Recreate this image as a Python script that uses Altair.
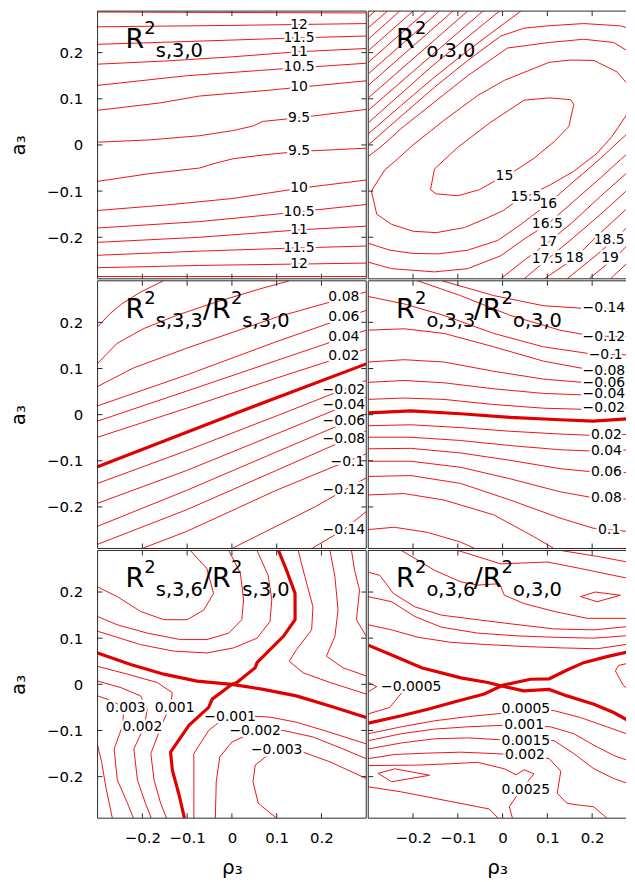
import altair as alt
import pandas as pd

FONT = "DejaVu Sans"
THIN = "#f01414"
THICK = "#e00000"
INK = "#2a2a2a"
TICKS = [-0.2, -0.1, 0.0, 0.1, 0.2]

# ---------------- panel 1 : R^2_{s,3,0} ----------------
P1_LINES = [
    [(-0.3, 0.288), (0.3, 0.286)],
    [(-0.3, 0.256), (0.0, 0.259), (0.3, 0.263)],
    [(-0.3, 0.218), (-0.072, 0.225), (0.15, 0.232), (0.3, 0.236)],
    [(-0.3, 0.175), (-0.146, 0.182), (0.002, 0.191), (0.15, 0.202), (0.3, 0.209)],
    [(-0.3, 0.129), (-0.101, 0.150), (0.099, 0.164), (0.3, 0.177)],
    [(-0.3, 0.075), (-0.161, 0.091), (-0.072, 0.106), (0.076, 0.118), (0.3, 0.139)],
    [(-0.3, 0.006), (-0.183, 0.011), (-0.072, 0.020), (0.002, 0.031), (0.047, 0.041), (0.069, 0.051), (0.15, 0.059), (0.3, 0.077)],
    [(-0.3, -0.079), (-0.183, -0.062), (-0.072, -0.050), (-0.042, -0.041), (0.002, -0.030), (0.076, -0.021), (0.15, -0.014), (0.3, -0.007)],
    [(-0.3, -0.142), (-0.146, -0.130), (0.002, -0.116), (0.15, -0.094), (0.3, -0.076)],
    [(-0.3, -0.180), (-0.072, -0.166), (0.099, -0.150), (0.3, -0.129)],
    [(-0.3, -0.211), (-0.072, -0.200), (0.15, -0.184), (0.3, -0.176)],
    [(-0.3, -0.239), (-0.072, -0.230), (0.15, -0.223), (0.3, -0.219)],
    [(-0.3, -0.266), (-0.072, -0.261), (0.3, -0.256)],
    [(-0.3, -0.285), (0.3, -0.285)],
]
P1_THICK = []
P1_LABELS = [("12", 0.15, 0.259), ("11.5", 0.15, 0.231), ("11", 0.15, 0.202), ("10.5", 0.15, 0.168),
             ("10", 0.15, 0.126), ("9.5", 0.15, 0.059), ("9.5", 0.15, -0.014), ("10", 0.15, -0.093),
             ("10.5", 0.15, -0.145), ("11", 0.15, -0.184), ("11.5", 0.15, -0.223), ("12", 0.15, -0.258)]
P1_TITLE = ["s,3,0"]

# ---------------- panel 2 : R^2_{o,3,0} ----------------
P2_LINES = [
    [(-0.161, -0.097), (-0.152, -0.052), (-0.1, -0.005), (-0.027, 0.049), (0.048, 0.097), (0.104, 0.102), (0.152, 0.098),
     (0.159, 0.088), (0.148, 0.04), (0.115, 0.007), (0.07, -0.029), (0.026, -0.057), (-0.019, -0.079), (-0.052, -0.097),
     (-0.1, -0.11), (-0.148, -0.106), (-0.161, -0.097)],
    [(0.293, 0.097), (0.274, 0.061), (0.244, 0.018), (0.211, -0.018), (0.159, -0.057), (0.107, -0.086), (0.052, -0.113),
     (0.026, -0.125), (0.0, -0.143), (-0.041, -0.161), (-0.085, -0.179), (-0.148, -0.19), (-0.2, -0.187), (-0.248, -0.172),
     (-0.281, -0.15), (-0.293, -0.1), (-0.263, -0.054), (-0.233, -0.029), (-0.2, 0.0), (-0.13, 0.054), (-0.056, 0.107),
     (0.004, 0.14), (0.104, 0.179), (0.152, 0.184), (0.204, 0.183), (0.256, 0.158), (0.278, 0.133), (0.293, 0.097)],
    [(-0.3, -0.213), (-0.252, -0.228), (-0.2, -0.235), (-0.144, -0.236), (-0.078, -0.228), (-0.011, -0.207), (0.041, -0.172),
     (0.102, -0.127), (0.159, -0.079), (0.219, -0.029), (0.263, 0.011), (0.3, 0.043)],
    [(0.3, 0.183), (0.285, 0.2), (0.248, 0.222), (0.181, 0.229), (0.104, 0.222), (0.011, 0.21), (-0.078, 0.15),
     (-0.152, 0.093), (-0.226, 0.036), (-0.267, 0.0), (-0.3, -0.025)],
    [(-0.3, 0.0), (-0.233, 0.057), (-0.152, 0.125), (-0.078, 0.183), (-0.004, 0.236), (0.048, 0.253), (0.1, 0.258),
     (0.181, 0.263), (0.263, 0.258), (0.3, 0.248)],
    [(-0.3, -0.254), (-0.248, -0.268), (-0.152, -0.275), (-0.078, -0.268), (-0.004, -0.24), (0.048, -0.204), (0.1, -0.172),
     (0.159, -0.122), (0.219, -0.071), (0.263, -0.032), (0.3, -0.001)],
    [(-0.004, -0.29), (0.048, -0.25), (0.102, -0.211), (0.159, -0.165), (0.219, -0.111), (0.3, -0.041)],
    [(0.048, -0.29), (0.1, -0.248), (0.159, -0.2), (0.219, -0.15), (0.3, -0.079)],
    [(0.093, -0.29), (0.161, -0.245), (0.219, -0.19), (0.3, -0.118)],
    [(0.144, -0.29), (0.204, -0.243), (0.25, -0.205), (0.3, -0.157)],
    [(0.193, -0.29), (0.25, -0.245), (0.3, -0.197)],
    [(0.241, -0.29), (0.3, -0.236)],
    [(0.285, -0.29), (0.3, -0.279)],
    [(-0.3, 0.024), (-0.226, 0.086), (-0.152, 0.147), (-0.078, 0.204), (-0.019, 0.247), (0.041, 0.29)],
    [(-0.3, 0.048), (-0.156, 0.172), (-0.007, 0.29)],
    [(-0.3, 0.075), (-0.044, 0.29)],
    [(-0.3, 0.102), (-0.078, 0.29)],
    [(-0.3, 0.129), (-0.111, 0.29)],
    [(-0.3, 0.154), (-0.141, 0.29)],
    [(-0.3, 0.179), (-0.17, 0.29)],
    [(-0.3, 0.204), (-0.2, 0.29)],
    [(-0.3, 0.229), (-0.23, 0.29)],
    [(-0.3, 0.254), (-0.257, 0.29)],
    [(-0.3, 0.277), (-0.285, 0.29)],
]
P2_THICK = []
P2_LABELS = [("15", 0.004, -0.068), ("15.5", 0.052, -0.113), ("16", 0.102, -0.127), ("16.5", 0.1, -0.172),
             ("17", 0.102, -0.211), ("17.5", 0.1, -0.248), ("18", 0.161, -0.245), ("18.5", 0.238, -0.205),
             ("19", 0.24, -0.245)]
P2_TITLE = ["o,3,0"]

# ---------------- panel 3 : R^2_{s,3,3}/R^2_{s,3,0} ----------------
P3_LINES = [
    [(-0.3, -0.049), (-0.101, 0.014), (0.099, 0.079), (0.3, 0.142)],
    [(-0.3, -0.014), (-0.101, 0.051), (0.099, 0.117), (0.3, 0.183)],
    [(-0.3, 0.019), (-0.101, 0.086), (0.099, 0.158), (0.3, 0.226)],
    [(-0.3, 0.061), (-0.22, 0.101), (-0.101, 0.144), (0.099, 0.211), (0.3, 0.266)],
    [(-0.3, 0.111), (-0.257, 0.154), (-0.198, 0.186), (-0.124, 0.215), (-0.035, 0.244), (0.061, 0.272), (0.128, 0.29)],
    [(-0.3, 0.19), (-0.272, 0.219), (-0.246, 0.24), (-0.205, 0.265), (-0.153, 0.29)],
    [(-0.3, -0.149), (-0.101, -0.078), (0.099, -0.003), (0.3, 0.074)],
    [(-0.3, -0.192), (-0.101, -0.121), (0.099, -0.042), (0.3, 0.038)],
    [(-0.3, -0.242), (-0.101, -0.164), (0.099, -0.081), (0.3, 0.002)],
    [(-0.3, -0.281), (-0.101, -0.206), (0.099, -0.121), (0.3, -0.035)],
    [(-0.198, -0.289), (-0.101, -0.253), (0.099, -0.164), (0.224, -0.114), (0.3, -0.085)],
    [(0.002, -0.289), (0.099, -0.242), (0.187, -0.199), (0.25, -0.164), (0.3, -0.137)],
    [(0.18, -0.289), (0.25, -0.249), (0.3, -0.21)],
]
P3_THICK = [[(-0.3, -0.113), (0.0, 0.0), (0.3, 0.11)]]
P3_LABELS = [("0.08", 0.25, 0.254), ("0.06", 0.25, 0.211), ("0.04", 0.25, 0.169), ("0.02", 0.25, 0.126),
             ("−0.02", 0.25, 0.054), ("−0.04", 0.25, 0.021), ("−0.06", 0.25, -0.014), ("−0.08", 0.25, -0.053),
             ("−0.1", 0.258, -0.103), ("−0.12", 0.25, -0.164), ("−0.14", 0.25, -0.249)]
P3_TITLE = ["s,3,3", "s,3,0"]

# ---------------- panel 4 : R^2_{o,3,3}/R^2_{o,3,0} ----------------
P4_LINES = [
    [(-0.135, 0.29), (-0.02, 0.258), (0.091, 0.236), (0.202, 0.229), (0.3, 0.233)],
    [(-0.19, 0.29), (-0.094, 0.258), (0.017, 0.215), (0.128, 0.183), (0.202, 0.17), (0.3, 0.169)],
    [(-0.3, 0.256), (-0.22, 0.24), (-0.131, 0.215), (-0.02, 0.176), (0.091, 0.147), (0.202, 0.131), (0.3, 0.129)],
    [(-0.3, 0.183), (-0.22, 0.186), (-0.131, 0.176), (-0.02, 0.147), (0.091, 0.116), (0.202, 0.096), (0.3, 0.094)],
    [(-0.3, 0.114), (-0.22, 0.119), (-0.131, 0.114), (-0.02, 0.094), (0.091, 0.077), (0.202, 0.068), (0.3, 0.07)],
    [(-0.3, 0.07), (-0.22, 0.074), (-0.131, 0.069), (-0.02, 0.056), (0.091, 0.046), (0.202, 0.042), (0.3, 0.046)],
    [(-0.3, 0.033), (-0.22, 0.036), (-0.131, 0.033), (-0.02, 0.022), (0.091, 0.014), (0.202, 0.011), (0.3, 0.016)],
    [(-0.3, -0.024), (-0.205, -0.022), (-0.094, -0.028), (0.017, -0.036), (0.128, -0.042), (0.202, -0.045), (0.3, -0.042)],
    [(-0.3, -0.049), (-0.205, -0.049), (-0.094, -0.056), (0.017, -0.067), (0.128, -0.076), (0.202, -0.079), (0.3, -0.076)],
    [(-0.3, -0.074), (-0.205, -0.073), (-0.094, -0.083), (0.017, -0.099), (0.128, -0.117), (0.202, -0.124), (0.3, -0.126)],
    [(-0.3, -0.101), (-0.205, -0.101), (-0.094, -0.114), (0.017, -0.139), (0.128, -0.167), (0.202, -0.18), (0.3, -0.184)],
    [(-0.3, -0.134), (-0.205, -0.132), (-0.094, -0.149), (0.017, -0.185), (0.128, -0.224), (0.202, -0.246), (0.3, -0.255)],
    [(-0.3, -0.174), (-0.22, -0.171), (-0.131, -0.185), (-0.02, -0.217), (0.069, -0.264), (0.113, -0.289)],
    [(-0.3, -0.249), (-0.242, -0.244), (-0.168, -0.255), (-0.094, -0.276), (-0.064, -0.289)],
]
P4_THICK = [[(-0.3, 0.004), (-0.205, 0.008), (-0.094, 0.002), (0.017, -0.006), (0.128, -0.011), (0.202, -0.014), (0.3, -0.008)]]
P4_LABELS = [("−0.14", 0.226, 0.231), ("−0.12", 0.226, 0.169), ("−0.1", 0.23, 0.129), ("−0.08", 0.226, 0.094),
             ("−0.06", 0.226, 0.069), ("−0.04", 0.226, 0.044), ("−0.02", 0.226, 0.015), ("0.02", 0.232, -0.044),
             ("0.04", 0.232, -0.078), ("0.06", 0.232, -0.124), ("0.08", 0.232, -0.181), ("0.1", 0.238, -0.251)]
P4_TITLE = ["o,3,3", "o,3,0"]

# ---------------- panel 5 : R^2_{s,3,6}/R^2_{s,3,0} ----------------
P5_LINES = [
    [(-0.093, 0.29), (-0.056, 0.251), (-0.041, 0.197), (-0.063, 0.161), (-0.1, 0.14), (-0.152, 0.14), (-0.204, 0.158),
     (-0.256, 0.19), (-0.3, 0.211)],
    [(-0.007, 0.29), (0.019, 0.24), (0.026, 0.183), (0.022, 0.14), (-0.007, 0.111), (-0.056, 0.097), (-0.115, 0.097),
     (-0.189, 0.111), (-0.256, 0.129), (-0.3, 0.147)],
    [(0.056, 0.29), (0.081, 0.236), (0.089, 0.183), (0.085, 0.136), (0.056, 0.1), (0.004, 0.079), (-0.056, 0.068),
     (-0.13, 0.072), (-0.204, 0.086), (-0.263, 0.104), (-0.3, 0.115)],
    [(0.148, 0.29), (0.163, 0.233), (0.181, 0.168), (0.178, 0.118), (0.144, 0.075), (0.128, 0.05), (0.159, 0.025),
     (0.219, 0.004), (0.3, -0.021)],
    [(0.219, 0.29), (0.23, 0.233), (0.237, 0.161), (0.23, 0.104), (0.211, 0.061), (0.248, 0.036), (0.3, 0.018)],
    [(0.267, 0.29), (0.274, 0.247), (0.285, 0.204), (0.278, 0.14), (0.3, 0.104)],
    [(-0.085, -0.29), (-0.085, -0.15), (-0.052, -0.1), (-0.019, -0.075), (0.026, -0.068), (0.085, -0.071), (0.144, -0.082),
     (0.219, -0.104), (0.3, -0.129)],
    [(-0.037, -0.29), (-0.035, -0.211), (-0.027, -0.157), (0.0, -0.125), (0.052, -0.102), (0.115, -0.1), (0.181, -0.114),
     (0.248, -0.14), (0.3, -0.161)],
    [(0.1, -0.29), (0.059, -0.258), (0.047, -0.211), (0.052, -0.175), (0.078, -0.155), (0.115, -0.144), (0.159, -0.147),
     (0.219, -0.168), (0.3, -0.204)],
    [(-0.3, 0.039), (-0.233, 0.022), (-0.167, 0.004), (-0.133, -0.018), (-0.137, -0.046), (-0.156, -0.086), (-0.181, -0.15),
     (-0.174, -0.207), (-0.159, -0.258), (-0.146, -0.29)],
    [(-0.3, 0.007), (-0.248, -0.007), (-0.204, -0.025), (-0.189, -0.054), (-0.196, -0.092), (-0.219, -0.14), (-0.211, -0.207),
     (-0.193, -0.258), (-0.18, -0.29)],
    [(-0.3, -0.025), (-0.267, -0.036), (-0.241, -0.051), (-0.244, -0.089), (-0.263, -0.14), (-0.256, -0.207),
     (-0.233, -0.258), (-0.22, -0.29)],
    [(-0.3, -0.132), (-0.291, -0.168), (-0.281, -0.225), (-0.267, -0.29)],
]
P5_THICK = [
    [(0.104, 0.29), (0.122, 0.247), (0.141, 0.197), (0.141, 0.14), (0.115, 0.104), (0.085, 0.075), (0.056, 0.047),
     (0.052, 0.036), (0.011, 0.004), (0.0, 0.0), (-0.044, -0.032), (-0.052, -0.05), (-0.096, -0.089), (-0.137, -0.147),
     (-0.133, -0.186), (-0.119, -0.236), (-0.106, -0.29)],
    [(-0.3, 0.068), (-0.226, 0.043), (-0.152, 0.022), (-0.078, 0.007), (0.0, 0.0), (0.07, -0.011), (0.144, -0.025),
     (0.219, -0.047), (0.3, -0.072)],
]
P5_LABELS = [("0.003", -0.237, -0.051), ("0.001", -0.128, -0.051), ("0.002", -0.2, -0.092),
             ("−0.001", -0.004, -0.071), ("−0.002", 0.052, -0.102), ("−0.003", 0.1, -0.143)]
P5_TITLE = ["s,3,6", "s,3,0"]

# ---------------- panel 6 : R^2_{o,3,6}/R^2_{o,3,0} ----------------
P6_LINES = [
    [(0.13, 0.29), (0.219, 0.276), (0.3, 0.261)],
    [(-0.1, 0.29), (-0.004, 0.261), (0.1, 0.265), (0.174, 0.251), (0.248, 0.236), (0.3, 0.226)],
    [(-0.226, 0.29), (-0.189, 0.269), (-0.152, 0.247), (-0.093, 0.222), (-0.056, 0.215), (-0.007, 0.218), (0.004, 0.193),
     (0.048, 0.175), (0.115, 0.158), (0.189, 0.143), (0.3, 0.143)],
    [(-0.3, 0.243), (-0.274, 0.236), (-0.244, 0.197), (-0.196, 0.168), (-0.137, 0.15), (-0.056, 0.14), (0.019, 0.131),
     (0.115, 0.12), (0.204, 0.118), (0.3, 0.127)],
    [(-0.3, 0.19), (-0.248, 0.179), (-0.196, 0.147), (-0.137, 0.124), (-0.056, 0.111), (0.033, 0.105), (0.115, 0.102),
     (0.204, 0.1), (0.3, 0.107)],
    [(-0.3, 0.129), (-0.248, 0.118), (-0.189, 0.102), (-0.115, 0.091), (-0.033, 0.086), (0.048, 0.082), (0.13, 0.079),
     (0.211, 0.077), (0.3, 0.09)],
    [(0.174, 0.19), (0.207, 0.2), (0.263, 0.193), (0.211, 0.179), (0.174, 0.19)],
    [(0.3, 0.05), (0.259, 0.041), (0.252, 0.029), (0.27, -0.003), (0.3, -0.025)],
    [(-0.219, -0.011), (-0.252, -0.05), (-0.3, -0.064)],
    [(-0.3, 0.004), (-0.281, -0.005), (-0.3, -0.016)],
    [(-0.3, -0.107), (-0.226, -0.092), (-0.152, -0.079), (-0.078, -0.07), (-0.004, -0.063), (0.056, -0.056), (0.115, -0.057),
     (0.174, -0.072), (0.233, -0.092), (0.3, -0.115)],
    [(-0.3, -0.122), (-0.226, -0.107), (-0.152, -0.097), (-0.078, -0.092), (-0.004, -0.089), (0.048, -0.089), (0.107, -0.092),
     (0.159, -0.107), (0.204, -0.132), (0.248, -0.154), (0.3, -0.172)],
    [(-0.3, -0.14), (-0.226, -0.127), (-0.152, -0.118), (-0.078, -0.116), (-0.004, -0.12), (0.052, -0.123), (0.115, -0.122),
     (0.159, -0.15), (0.204, -0.183), (0.248, -0.204), (0.3, -0.222)],
    [(-0.3, -0.161), (-0.241, -0.152), (-0.167, -0.149), (-0.093, -0.147), (-0.019, -0.15), (0.052, -0.154), (0.104, -0.161),
     (0.13, -0.188), (0.122, -0.236), (0.144, -0.258), (0.174, -0.262), (0.203, -0.265), (0.233, -0.29)],
    [(-0.278, -0.193), (-0.241, -0.183), (-0.163, -0.197), (-0.248, -0.211), (-0.278, -0.193)],
    [(-0.3, -0.222), (-0.226, -0.233), (-0.115, -0.254), (-0.03, -0.27), (-0.01, -0.29)],
    [(-0.3, -0.176), (-0.189, -0.175), (-0.115, -0.172), (-0.056, -0.169), (0.004, -0.183), (0.03, -0.196), (0.048, -0.185),
     (0.07, -0.194), (0.04, -0.23), (0.015, -0.265), (0.022, -0.29)],
]
P6_THICK = [
    [(-0.3, 0.085), (-0.241, 0.061), (-0.181, 0.036), (-0.093, 0.014), (-0.033, 0.004), (0.0, -0.004), (0.047, -0.014),
     (0.104, -0.011), (0.144, -0.025), (0.204, -0.043), (0.248, -0.061), (0.3, -0.089)],
    [(-0.3, -0.084), (-0.226, -0.068), (-0.167, -0.054), (-0.1, -0.036), (-0.041, -0.021), (0.0, -0.002), (0.062, 0.011),
     (0.104, 0.012), (0.144, 0.031), (0.181, 0.047), (0.233, 0.06), (0.3, 0.075)],
]
P6_LABELS = [("−0.0005", -0.204, -0.005), ("0.0005", 0.052, -0.054), ("0.001", 0.048, -0.089),
             ("0.0015", 0.052, -0.123), ("0.002", 0.05, -0.154), ("0.0025", 0.052, -0.228)]
P6_TITLE = ["o,3,6", "o,3,0"]

H = 269
W_LEFT = 270
W_RIGHT = 259          # the page is 635 px wide: the right column is cut there, same scale
X_LEFT = [-0.3, 0.3]
X_RIGHT = [-0.3, 0.2756]
LABEL_EXPR = "datum.value == 0 ? '0' : replace(format(datum.value, '.1f'), '-', '\u2212')"
ONE = pd.DataFrame({"k": [0]})


def lines_frame(lines):
    rows = []
    for k, pts in enumerate(lines):
        for i, (x, y) in enumerate(pts):
            rows.append({"lid": k, "i": i, "x": x, "y": y})
    return pd.DataFrame(rows, columns=["lid", "i", "x", "y"])


def text_at(txt, px, py, size):
    return alt.Chart(pd.DataFrame({"t": [txt]})).mark_text(
        font=FONT, fontSize=size, align="left", baseline="alphabetic", color="black"
    ).encode(x=alt.value(px), y=alt.value(py), text="t:N")


def make_panel(lines, thick, labels, title, right, bottom):
    W = W_RIGHT if right else W_LEFT
    xs = alt.Scale(domain=X_RIGHT if right else X_LEFT, nice=False, zero=False)
    ys = alt.Scale(domain=[-0.29, 0.29], nice=False, zero=False)
    xaxis = None
    if bottom:
        xaxis = alt.Axis(values=TICKS, ticks=False, tickSize=0, domain=False, grid=False, labelExpr=LABEL_EXPR,
                         labelFont=FONT, labelFontSize=15, labelColor="black", labelPadding=12,
                         title="ρ₃", titleFont=FONT, titleFontSize=20, titleFontWeight="normal",
                         titleColor="black", titlePadding=13)
    yaxis = None
    if not right:
        yaxis = alt.Axis(values=TICKS, ticks=False, tickSize=0, domain=False, grid=False, labelExpr=LABEL_EXPR,
                         labelFont=FONT, labelFontSize=15, labelColor="black", labelPadding=15,
                         title="a₃", titleFont=FONT, titleFontSize=20, titleFontWeight="normal",
                         titleColor="black", titlePadding=18)

    def X(f):
        return alt.X(f"{f}:Q", scale=xs, axis=xaxis)

    def Y(f):
        return alt.Y(f"{f}:Q", scale=ys, axis=yaxis)

    layers = [
        alt.Chart(lines_frame(lines)).mark_line(color=THIN, strokeWidth=1, clip=True).encode(
            x=X("x"), y=Y("y"), detail="lid:N", order="i:Q")
    ]
    if thick:
        layers.append(alt.Chart(lines_frame(thick)).mark_line(color=THICK, strokeWidth=3.2, clip=True).encode(
            x=X("x"), y=Y("y"), detail="lid:N", order="i:Q"))
    lab = pd.DataFrame(labels, columns=["t", "x", "y"])
    layers.append(alt.Chart(lab).mark_text(font=FONT, fontSize=14, fill="white", stroke="white", strokeWidth=5,
                                           strokeJoin="round").encode(x=X("x"), y=Y("y"), text="t:N"))
    layers.append(alt.Chart(lab).mark_text(font=FONT, fontSize=14, color="black").encode(
        x=X("x"), y=Y("y"), text="t:N"))

    # frame (the right column's right edge lies outside the page)
    frame = alt.Chart(ONE).mark_rule(color=INK, strokeWidth=1)
    layers.append(frame.encode(x=alt.value(0), x2=alt.value(W), y=alt.value(0)))
    layers.append(frame.encode(x=alt.value(0), x2=alt.value(W), y=alt.value(H)))
    layers.append(frame.encode(x=alt.value(0), y=alt.value(0), y2=alt.value(H)))
    if not right:
        layers.append(frame.encode(x=alt.value(W), y=alt.value(0), y2=alt.value(H)))

    tick = alt.Chart(pd.DataFrame({"v": TICKS})).mark_rule(color=INK, strokeWidth=1)
    layers.append(tick.encode(x=X("v"), y=alt.value(0), y2=alt.value(5)))
    layers.append(tick.encode(x=X("v"), y=alt.value(H), y2=alt.value(H - 5)))
    layers.append(tick.encode(y=Y("v"), x=alt.value(0), x2=alt.value(5)))
    if not right:
        layers.append(tick.encode(y=Y("v"), x=alt.value(W), x2=alt.value(W - 5)))

    layers.append(text_at("R", 28, 37, 27))
    layers.append(text_at("2", 47, 23, 18))
    layers.append(text_at(title[0], 58.5, 46, 19.5))
    if len(title) > 1:
        layers.append(text_at("/", 106, 37, 27))
        layers.append(text_at("R", 115, 37, 27))
        layers.append(text_at("2", 134, 23, 18))
        layers.append(text_at(title[1], 145.5, 46, 19.5))

    return alt.layer(*layers).properties(width=W, height=H)


row1 = alt.hconcat(make_panel(P1_LINES, P1_THICK, P1_LABELS, P1_TITLE, False, False),
                   make_panel(P2_LINES, P2_THICK, P2_LABELS, P2_TITLE, True, False), spacing=0)
row2 = alt.hconcat(make_panel(P3_LINES, P3_THICK, P3_LABELS, P3_TITLE, False, False),
                   make_panel(P4_LINES, P4_THICK, P4_LABELS, P4_TITLE, True, False), spacing=0)
row3 = alt.hconcat(make_panel(P5_LINES, P5_THICK, P5_LABELS, P5_TITLE, False, True),
                   make_panel(P6_LINES, P6_THICK, P6_LABELS, P6_TITLE, True, True), spacing=0)

chart = alt.vconcat(row1, row2, row3, spacing=0).properties(padding=0, background="white").configure_view(
    strokeWidth=0)

chart.save("out.html", embed_options={"renderer": "svg", "actions": False})
